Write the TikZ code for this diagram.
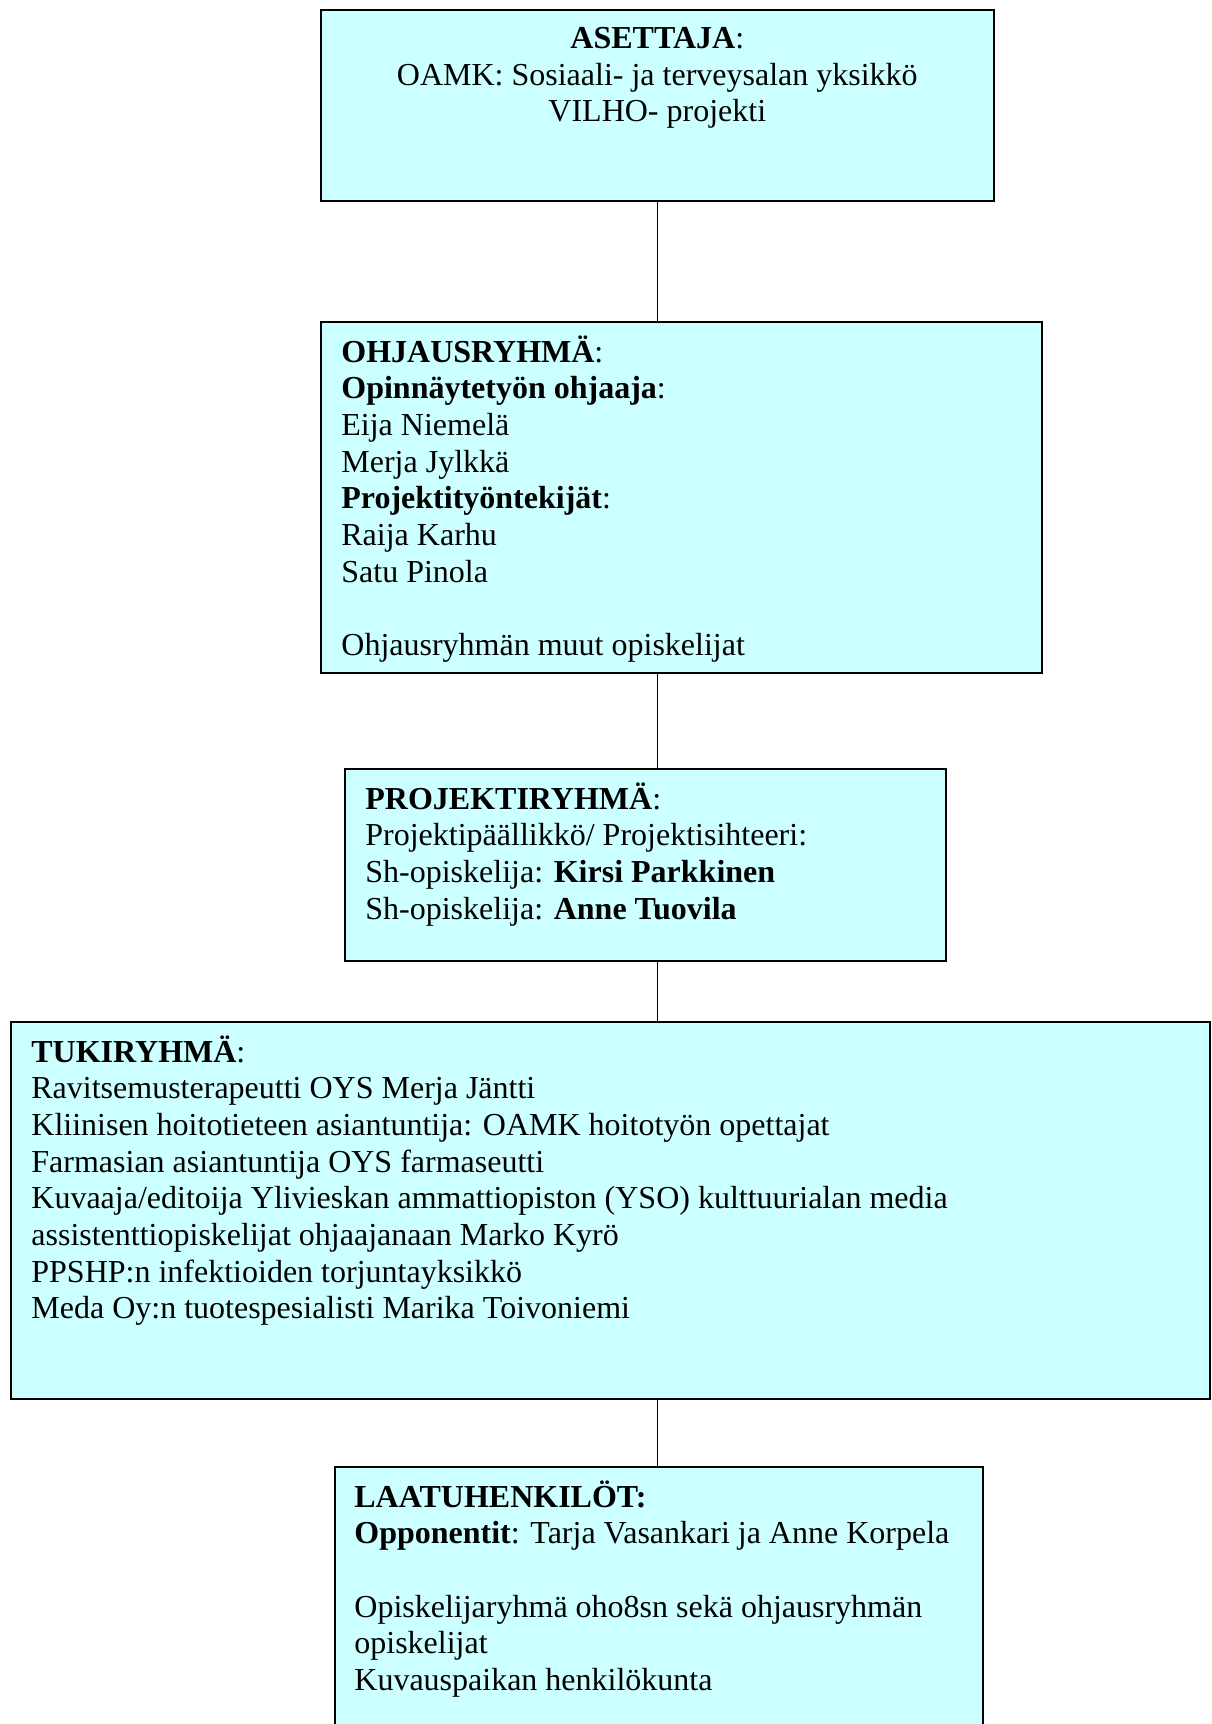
\documentclass[tikz,border=0pt]{standalone}
\usepackage{xcolor}
\usepackage{fontspec}
\setmainfont{Liberation Serif}
\usetikzlibrary{positioning}
\definecolor{boxcyan}{HTML}{CCFFFF}

\begin{document}
\begin{tikzpicture}[x=0.5pt, y=-0.5pt,
    box/.style={rectangle, draw, line width=0.8pt, fill=boxcyan, anchor=north west, inner sep=0pt},
    txt/.style={anchor=north west, inner sep=0pt, align=left, font=\fontsize{16}{18.35}\selectfont, execute at begin node=\strut},
    line/.style={line width=0.8pt}]

    \clip (0,0) rectangle (1211,1724);
    \fill[white] (0,0) rectangle (1211,1724);

    \node[box, minimum width=336.5pt, minimum height=95.5pt] (asettaja) at (320,9) {};
    \node[box, minimum width=360.5pt, minimum height=175.5pt] (ohjaus) at (320,321) {};
    \node[box, minimum width=300.5pt, minimum height=96pt] (projekti) at (344,768) {};
    \node[box, minimum width=599.5pt, minimum height=188.5pt] (tuki) at (10,1021) {};
    \node[box, minimum width=324pt, minimum height=150pt] (laatu) at (334,1466) {};

    \node[txt, anchor=north, align=center] (asettaja-txt) at ([yshift=-9pt]asettaja.north)
        {\textbf{ASETTAJA}:\\OAMK: Sosiaali- ja terveysalan yksikkö\\VILHO- projekti};
    \node[txt] (ohjaus-txt) at ([xshift=10.5pt, yshift=-7pt]ohjaus.north west)
        {\textbf{OHJAUSRYHMÄ}:\\\textbf{Opinnäytetyön ohjaaja}:\\Eija Niemelä\\Merja Jylkkä\\
         \textbf{Projektityöntekijät}:\\Raija Karhu\\Satu Pinola\\[18.35pt]Ohjausryhmän muut opiskelijat};
    \node[txt] (projekti-txt) at ([xshift=10.5pt, yshift=-7pt]projekti.north west)
        {\textbf{PROJEKTIRYHMÄ}:\\Projektipäällikkö/ Projektisihteeri:\\Sh-opiskelija: \textbf{Kirsi Parkkinen}\\
         Sh-opiskelija: \textbf{Anne Tuovila}};
    \node[txt] (tuki-txt) at ([xshift=10.5pt, yshift=-7pt]tuki.north west)
        {\textbf{TUKIRYHMÄ}:\\Ravitsemusterapeutti OYS Merja Jäntti\\
         Kliinisen hoitotieteen asiantuntija: OAMK hoitotyön opettajat\\
         Farmasian asiantuntija OYS farmaseutti\\
         Kuvaaja/editoija Ylivieskan ammattiopiston (YSO) kulttuurialan media\\
         assistenttiopiskelijat ohjaajanaan Marko Kyrö\\
         PPSHP:n infektioiden torjuntayksikkö\\
         Meda Oy:n tuotespesialisti Marika Toivoniemi};
    \node[txt] (laatu-txt) at ([xshift=10pt, yshift=-7pt]laatu.north west)
        {\textbf{LAATUHENKILÖT:}\\\textbf{Opponentit}: Tarja Vasankari ja Anne Korpela\\[18.35pt]
         Opiskelijaryhmä oho8sn sekä ohjausryhmän\\opiskelijat\\Kuvauspaikan henkilökunta};

    \draw[line] (asettaja.south) -- (asettaja.south |- ohjaus.north);
    \draw[line] (asettaja.south |- ohjaus.south) -- (asettaja.south |- projekti.north);
    \draw[line] (asettaja.south |- projekti.south) -- (asettaja.south |- tuki.north);
    \draw[line] (asettaja.south |- tuki.south) -- (asettaja.south |- laatu.north);

\end{tikzpicture}
\end{document}
